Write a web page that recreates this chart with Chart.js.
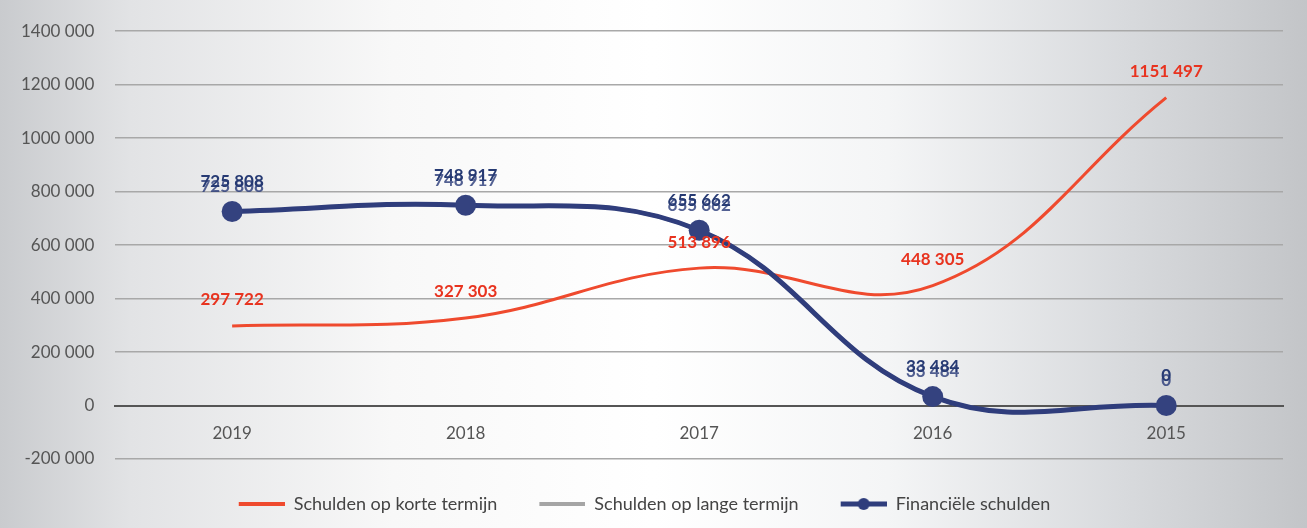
<!DOCTYPE html>
<html>
<head>
<meta charset="utf-8">
<script src="https://cdn.jsdelivr.net/npm/chart.js@4.4.1/dist/chart.umd.min.js"></script>
<style>
html,body{margin:0;padding:0;}
body{width:1307px;height:528px;overflow:hidden;
background:linear-gradient(90deg,#c9cbce 0%,#e2e3e5 10%,#f8f8f8 30%,#ffffff 50%,#f4f5f6 68%,#d8dadd 86%,#c3c5c8 100%);}
#wrap{position:absolute;left:0;top:0;width:1307px;height:528px;}
</style>
</head>
<body>
<div id="wrap"><canvas id="c" width="1307" height="528"></canvas></div>
<script>
const categories = ["2019", "2018", "2017", "2016", "2015"];
const shortTermDebt = [297722, 327303, 513896, 448305, 1151497];
const longTermDebt = [725808, 748917, 655662, 33484, 0];
const financialDebt = [725808, 748917, 655662, 33484, 0];
const seriesNames = ["Schulden op korte termijn", "Schulden op lange termijn", "Financiële schulden"];
const yTicks = [-200000, 0, 200000, 400000, 600000, 800000, 1000000, 1200000, 1400000];

const FONT = "Lato, 'Open Sans', sans-serif";

function fmt(v){
  const neg = v < 0; v = Math.abs(Math.round(v));
  let s;
  if (v < 1000) s = String(v);
  else { const th = Math.floor(v/1000), r = v % 1000; s = th + " " + String(r).padStart(3,"0"); }
  return (neg ? "-" : "") + s;
}

function legendMarker(color, lw, dot){
  const cv = document.createElement("canvas");
  cv.width = 52; cv.height = 14;
  const g = cv.getContext("2d");
  g.fillStyle = color;
  g.fillRect(6, 7 - lw/2, 46, lw);
  if (dot){ g.beginPath(); g.arc(29, 7, 6, 0, Math.PI*2); g.fill(); }
  return cv;
}

const labelPlugin = {
  id: "pointLabels",
  afterDatasetsDraw(chart){
    const ctx = chart.ctx;
    ctx.save();
    ctx.textAlign = "center";
    ctx.textBaseline = "middle";
    chart.data.datasets.forEach((ds, di) => {
      const meta = chart.getDatasetMeta(di);
      if (!ds.labelColor) return;
      ctx.font = "bold 17px " + FONT;
      ctx.fillStyle = ds.labelColor;
      meta.data.forEach((pt, i) => {
        ctx.fillText(fmt(ds.data[i]), pt.x, pt.y + ds.labelOffset);
      });
    });
    ctx.restore();
  }
};

new Chart(document.getElementById("c"), {
  type: "line",
  data: {
    labels: categories,
    datasets: [
      {
        label: seriesNames[1],
        data: longTermDebt,
        borderColor: "#a5a5a5",
        backgroundColor: "#a5a5a5",
        borderWidth: 4,
        pointRadius: 0,
        tension: 0.4,
        labelColor: "rgba(40,58,120,0.8)",
        labelOffset: -25,
        legendOrder: 1,
        marker: legendMarker("#a5a5a5", 4, false),
        order: 3
      },
      {
        label: seriesNames[0],
        data: shortTermDebt,
        borderColor: "#ef4a2e",
        backgroundColor: "#ef4a2e",
        borderWidth: 3,
        pointRadius: 0,
        tension: 0.4,
        labelColor: "#e8331f",
        labelOffset: -26,
        legendOrder: 0,
        marker: legendMarker("#ef4a2e", 4, false),
        order: 2
      },
      {
        label: seriesNames[2],
        data: financialDebt,
        borderColor: "#2f3d7c",
        backgroundColor: "#2f3d7c",
        borderWidth: 5,
        pointRadius: 10.5,
        pointBorderWidth: 0,
        pointBackgroundColor: "#34427f",
        tension: 0.4,
        labelColor: "#263a73",
        labelOffset: -30,
        legendOrder: 2,
        marker: legendMarker("#2f3d7c", 5, true),
        order: 1
      }
    ]
  },
  options: {
    responsive: false,
    animation: false,
    layout: { padding: { left: 0, right: 24, top: 18, bottom: 5 } },
    plugins: {
      legend: {
        position: "bottom",
        labels: {
          color: "#444",
          font: { size: 18, family: FONT },
          usePointStyle: true,
          pointStyleWidth: 52,
          padding: 36,
          sort: (a, b) => a.order - b.order,
          generateLabels(chart){
            return chart.data.datasets.map((ds, i) => ({
              text: ds.label,
              fillStyle: ds.borderColor,
              strokeStyle: ds.borderColor,
              lineWidth: 0,
              pointStyle: ds.marker,
              fontColor: "#444",
              hidden: !chart.isDatasetVisible(i),
              datasetIndex: i,
              order: ds.legendOrder
            }));
          }
        }
      },
      tooltip: { enabled: false }
    },
    scales: {
      x: {
        position: { y: 0 },
        offset: true,
        grid: { display: false, drawTicks: false },
        border: { display: true, color: "#555", width: 2 },
        ticks: { color: "#555", font: { size: 17, family: FONT }, padding: 18 }
      },
      y: {
        min: -200000,
        max: 1400000,
        afterBuildTicks(axis){ axis.ticks = yTicks.map(v => ({ value: v })); },
        grid: {
          color: (c) => c.tick && c.tick.value === 0 ? "#555" : "#a8a8a8",
          lineWidth: (c) => c.tick && c.tick.value === 0 ? 2 : 1.5,
          drawTicks: false
        },
        border: { display: false },
        ticks: {
          color: "#555",
          padding: 21,
          font: { size: 17, family: FONT },
          callback: (v) => fmt(v)
        }
      }
    }
  },
  plugins: [labelPlugin]
});
</script>
</body>
</html>
